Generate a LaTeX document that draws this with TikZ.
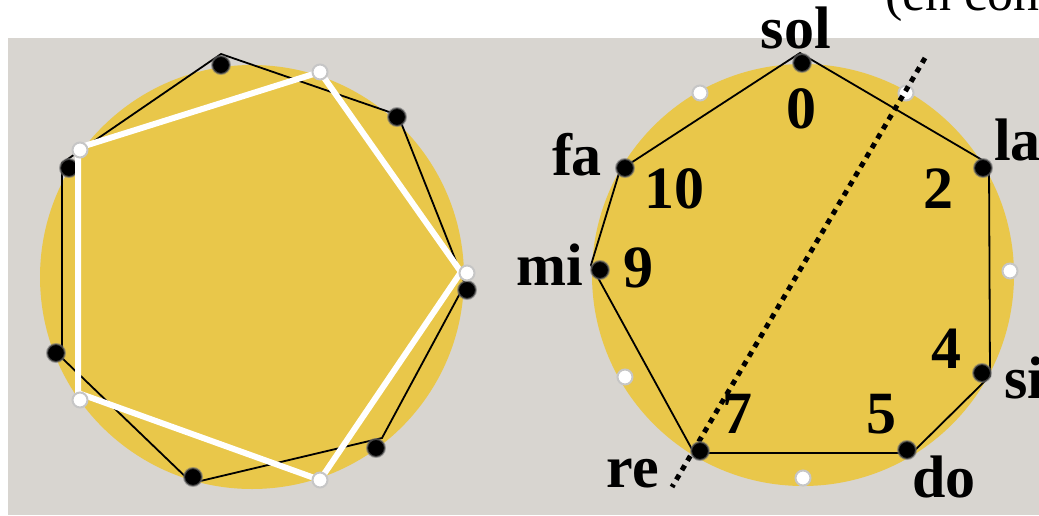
\documentclass[tikz,border=0pt]{standalone}
\usepackage{fontspec}
\setmainfont{Liberation Serif}
\definecolor{bg}{RGB}{216,213,208}
\definecolor{gold}{RGB}{233,199,74}
\begin{document}
\begin{tikzpicture}[x=1pt,y=-1pt,
  bdot/.style={circle,fill=black,draw=black!55,draw opacity=0.6,line width=2pt,inner sep=0pt,minimum size=18pt},
  wdot/.style={circle,fill=white,draw=gray!45,line width=2pt,inner sep=0pt,minimum size=15pt},
  edge/.style={line width=1.8pt,black,line join=miter},
  penta/.style={line width=6pt,white,line join=miter},
  dotline/.style={line width=5pt,black,dash pattern=on 5.5pt off 5.5pt},
  lab/.style={font=\bfseries\fontsize{60}{60}\selectfont,inner sep=0pt,anchor=base},
  top/.style={font=\fontsize{52}{52}\selectfont,inner sep=0pt,anchor=base west}
]
\useasboundingbox (0,0) rectangle (1039,515);
\clip (0,0) rectangle (1039,515);
\fill[white] (0,0) rectangle (1039,515);
\fill[bg] (8,38) rectangle (1039,515);
% discs
\fill[gold] (252,277) circle[radius=212];
\fill[gold] (803,275) circle[radius=211];

% ---------- left panel ----------
\coordinate (lv1) at (221,54);
\coordinate (lv2) at (398,115);
\coordinate (lv3) at (465,284);
\coordinate (lv4) at (382,438);
\coordinate (lv5) at (192,483);
\coordinate (lv6) at (62,358);
\coordinate (lv7) at (62,163);
\draw[edge] (lv1) -- (lv2) -- (lv3) -- (lv4) -- (lv5) -- (lv6) -- (lv7) -- cycle;
\node[bdot] (lb1) at (221,65) {};
\node[bdot] (lb2) at (397,117) {};
\node[bdot] (lb3) at (467,290) {};
\node[bdot] (lb4) at (376,448) {};
\node[bdot] (lb5) at (193,477) {};
\node[bdot] (lb6) at (56,353) {};
\node[bdot] (lb7) at (69,168) {};
\coordinate (lp1) at (320,72);
\coordinate (lp2) at (461,272);
\coordinate (lp3) at (320,480);
\coordinate (lp4) at (78,393);
\coordinate (lp5) at (78,148);
\draw[penta] (lp1) -- (lp2) -- (lp3) -- (lp4) -- (lp5) -- cycle;
\node[wdot] (lw1) at (320,72) {};
\node[wdot] (lw2) at (467,273) {};
\node[wdot] (lw3) at (320,480) {};
\node[wdot] (lw4) at (80,400) {};
\node[wdot] (lw5) at (80,150) {};

% ---------- right panel ----------
\coordinate (vsol) at (800,53);
\coordinate (vla) at (989,164);
\coordinate (vsi) at (990,376);
\coordinate (vdo) at (912,453);
\coordinate (vre) at (694,453);
\coordinate (vmi) at (591,265);
\coordinate (vfa) at (620,170);
\draw[edge] (vsol) -- (vla) -- (vsi) -- (vdo) -- (vre) -- (vmi) -- (vfa) -- cycle;
\node[wdot] (w1) at (906,93) {};
\node[wdot] (w3) at (1010,271) {};
\node[wdot] (w6) at (803,478) {};
\node[wdot] (w8) at (625,377) {};
\node[wdot] (w11) at (700,93) {};
\coordinate (dA) at (925,58);
\coordinate (dB) at (672,487);
\draw[dotline] (dA) -- (dB);
\node[bdot] (bsol) at (802,63) {};
\node[bdot] (bla) at (983,168) {};
\node[bdot] (bsi) at (982,373) {};
\node[bdot] (bdo) at (907,450) {};
\node[bdot] (bre) at (700,451) {};
\node[bdot] (bmi) at (600,270) {};
\node[bdot] (bfa) at (625,168) {};

% labels
\node[lab] (tsol) at (796,48) {sol};
\node[lab,anchor=base west] (tla) at (994,160) {la};
\node[lab,anchor=base west] (tsi) at (1004,398) {si};
\node[lab] (tdo) at (944,497) {do};
\node[lab] (tre) at (633,487) {re};
\node[lab] (tmi) at (550,285) {mi};
\node[lab] (tfa) at (577,175) {fa};
\node[lab] (n0) at (801,128) {0};
\node[lab] (n2) at (938,208) {2};
\node[lab] (n4) at (946,368) {4};
\node[lab] (n5) at (881,433) {5};
\node[lab] (n7) at (737,433) {7};
\node[lab] (n9) at (638,287) {9};
\node[lab] (n10) at (674,208) {10};
\node[top] (tcap) at (885,10) {(en con};
\end{tikzpicture}
\end{document}
